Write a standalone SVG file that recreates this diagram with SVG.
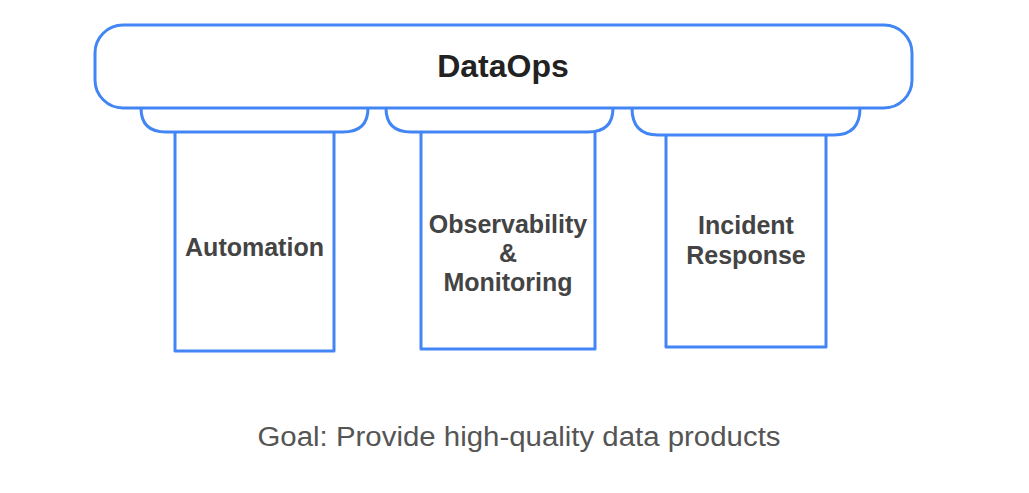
<svg xmlns="http://www.w3.org/2000/svg" width="1029" height="493" viewBox="0 0 1029 493">
<style>
.shape{fill:#fff;stroke:#4285f4;stroke-width:3;stroke-linejoin:round}
.title{font-family:"Liberation Sans",Arial,sans-serif;font-weight:bold;font-size:32px;fill:#222;text-anchor:middle}
.lbl{font-family:"Liberation Sans",Arial,sans-serif;font-weight:bold;font-size:25px;fill:#444;text-anchor:middle}
.goal{font-family:"Liberation Sans",Arial,sans-serif;font-size:27px;fill:#555;text-anchor:middle}
</style>
<rect width="1029" height="493" fill="#fff"/>
<g id="pillar-automation">
<path class="shape" d="M175,132 V351 H334 V132"/>
<path class="shape" d="M141,108 Q141,132 166,132 H343 Q368,132 368,108"/>
<text class="lbl" x="254.5" y="256">Automation</text>
</g>
<g id="pillar-observability">
<path class="shape" d="M421,132 V349 H595 V132"/>
<path class="shape" d="M386,108 Q386,132 411,132 H588 Q613,132 613,108"/>
<text class="lbl" x="508" y="232.5">Observability</text>
<text class="lbl" x="508" y="262">&amp;</text>
<text class="lbl" x="508" y="291">Monitoring</text>
</g>
<g id="pillar-incident">
<path class="shape" d="M666,135 V347 H826 V135"/>
<path class="shape" d="M632,108 Q632,135 658,135 H834 Q860,135 860,108"/>
<text class="lbl" x="746" y="234">Incident</text>
<text class="lbl" x="746" y="264">Response</text>
</g>
<g id="dataops">
<rect class="shape" x="95" y="25" width="817" height="83" rx="28" ry="28"/>
<text class="title" x="503" y="77">DataOps</text>
</g>
<g id="connectors"></g>
<g id="goal">
<text class="goal" x="519" y="446" textLength="523" lengthAdjust="spacingAndGlyphs">Goal: Provide high-quality data products</text>
</g>
</svg>
